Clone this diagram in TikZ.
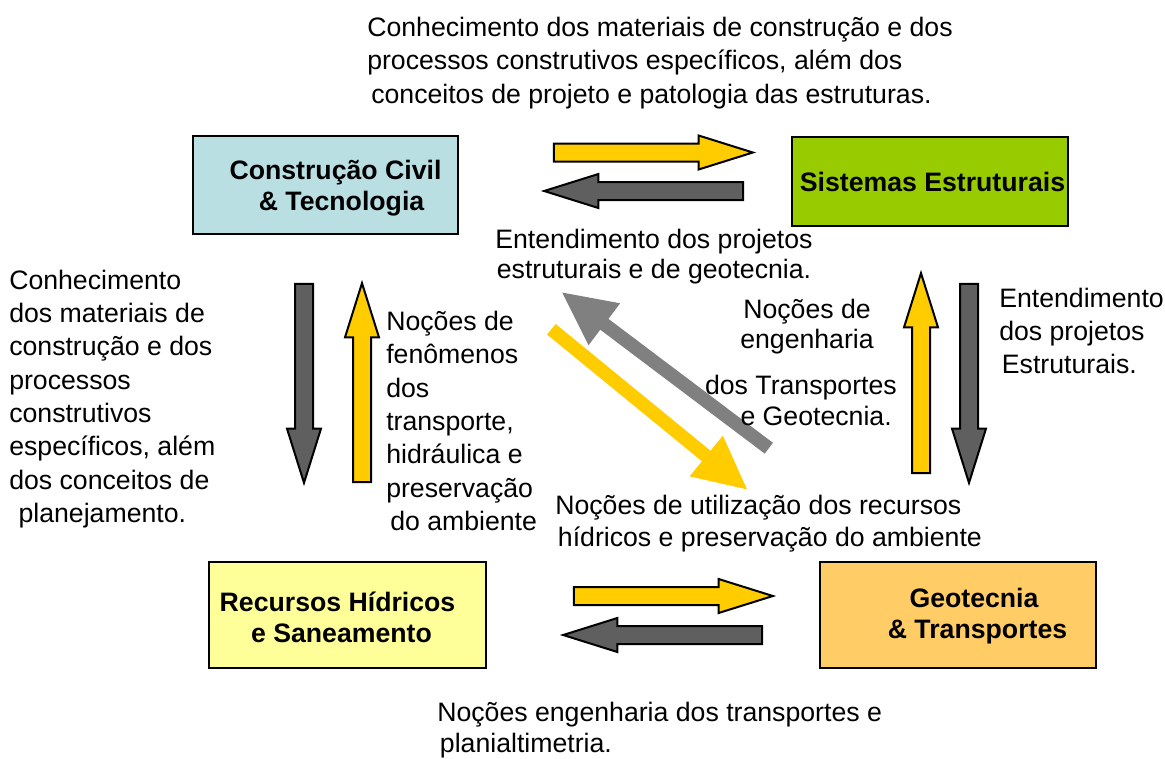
\documentclass[tikz,border=0pt]{standalone}
\usepackage{fontspec}
\setmainfont{Liberation Sans}
\usetikzlibrary{shapes.arrows}
\definecolor{ccblue}{HTML}{B9DFE3}
\definecolor{segreen}{HTML}{99CC00}
\definecolor{rhyellow}{HTML}{FFFF99}
\definecolor{gtorange}{HTML}{FFCC66}
\definecolor{ayellow}{HTML}{FFCC00}
\definecolor{agray}{HTML}{5F5F5F}
\definecolor{dgray}{HTML}{808080}
\begin{document}
\begin{tikzpicture}[x=0.75pt,y=-0.75pt,
  font=\fontsize{20}{25}\selectfont,
  box/.style={draw=black, line width=2pt, inner sep=0pt},
  boxtext/.style={font=\fontsize{20}{23.25}\selectfont\bfseries, align=center, inner sep=0pt},
  txt/.style={inner sep=0pt, align=left},
  blk/.style={single arrow, draw=black, line width=1.5pt, line join=miter,
    inner xsep=0pt, inner ysep=6pt,
    minimum width=24pt, minimum height=149.25pt,
    single arrow head extend=6pt, single arrow tip angle=34.8},
  yarrow/.style={blk, fill=ayellow},
  garrow/.style={blk, fill=agray},
  diag/.style={single arrow, inner xsep=0pt, inner ysep=4.9pt, minimum width=39pt,
    single arrow head extend=14.6pt, single arrow tip angle=53}
]
\useasboundingbox (0,0) rectangle (1165,758);

% boxes
\node[box, fill=ccblue, minimum width=198.75pt, minimum height=73.5pt] (cc) at (325.5,185) {};
\node[boxtext] (cct) at (335.5,188.5) {Construção Civil\\\hspace*{9pt}\& Tecnologia};
\node[box, fill=segreen, minimum width=207pt, minimum height=66.75pt] (se) at (930,181.5) {};
\node[boxtext] (set) at (932.5,182) {Sistemas Estruturais};
\node[box, fill=rhyellow, minimum width=207.75pt, minimum height=79.5pt] (rh) at (347.5,615) {};
\node[boxtext] (rht) at (337.5,617) {Recursos Hídricos\\\hspace*{6pt}e Saneamento};
\node[box, fill=gtorange, minimum width=207pt, minimum height=79.5pt] (gt) at (958,615) {};
\node[boxtext] (gtt) at (974,616) {Geotecnia\\\hspace*{5.25pt}\& Transportes};

% block arrows
\node[yarrow] (a1) at (639,152.5) {};
\node[garrow, rotate=180] (a2) at (658,191) {};
\node[yarrow] (a3) at (659,596) {};
\node[garrow, rotate=180] (a4) at (677,635) {};
\node[garrow, rotate=-90] (a5) at (304,369) {};
\node[yarrow, rotate=90] (a6) at (362,397) {};
\node[yarrow, rotate=90, minimum height=150pt] (a7) at (921,387.5) {};
\node[garrow, rotate=-90] (a8) at (969,369) {};

% diagonal arrows
\node[diag, fill=ayellow, minimum height=189.6pt, rotate=-39.3] (d1) at (643.9,405) {};
\node[diag, fill=dgray, minimum height=194pt, rotate=143] (d2) at (671,374.5) {};

% texts
\node[txt, anchor=west] (t1) at (367,63) {Conhecimento dos materiais de construção e dos\\processos construtivos específicos, além dos\\\hspace*{3pt}conceitos de projeto e patologia das estruturas.};
\node[txt, align=center, font=\fontsize{20}{22.5}\selectfont] (t2) at (654,256.5) {Entendimento dos projetos\\estruturais e de geotecnia.};
\node[txt, anchor=west] (t3) at (9,399) {Conhecimento\\dos materiais de\\construção e dos\\processos\\construtivos\\específicos, além\\dos conceitos de\\\hspace*{7pt}planejamento.};
\node[txt, anchor=west] (t4) at (386,421) {Noções de\\fenômenos\\dos\\transporte,\\hidráulica e\\preservação\\\hspace*{3pt}do ambiente};
\node[txt, align=center, font=\fontsize{20}{22.5}\selectfont] (t5) at (807,327) {Noções de\\engenharia};
\node[txt, align=right, anchor=east, font=\fontsize{20}{23.25}\selectfont] (t6) at (897,400.5) {dos Transportes\\e Geotecnia.\hspace*{3.75pt}};
\node[txt, anchor=west] (t7) at (999,331) {Entendimento\\dos projetos\\\hspace*{2pt}Estruturais.};
\node[txt, anchor=west, font=\fontsize{20}{24}\selectfont] (t8) at (555,524) {Noções de utilização dos recursos\\\hspace*{2pt}hídricos e preservação do ambiente};
\node[txt, anchor=west, font=\fontsize{20}{23.25}\selectfont] (t9) at (437,730.5) {Noções engenharia dos transportes e\\\hspace*{2pt}planialtimetria.};
\end{tikzpicture}
\end{document}
